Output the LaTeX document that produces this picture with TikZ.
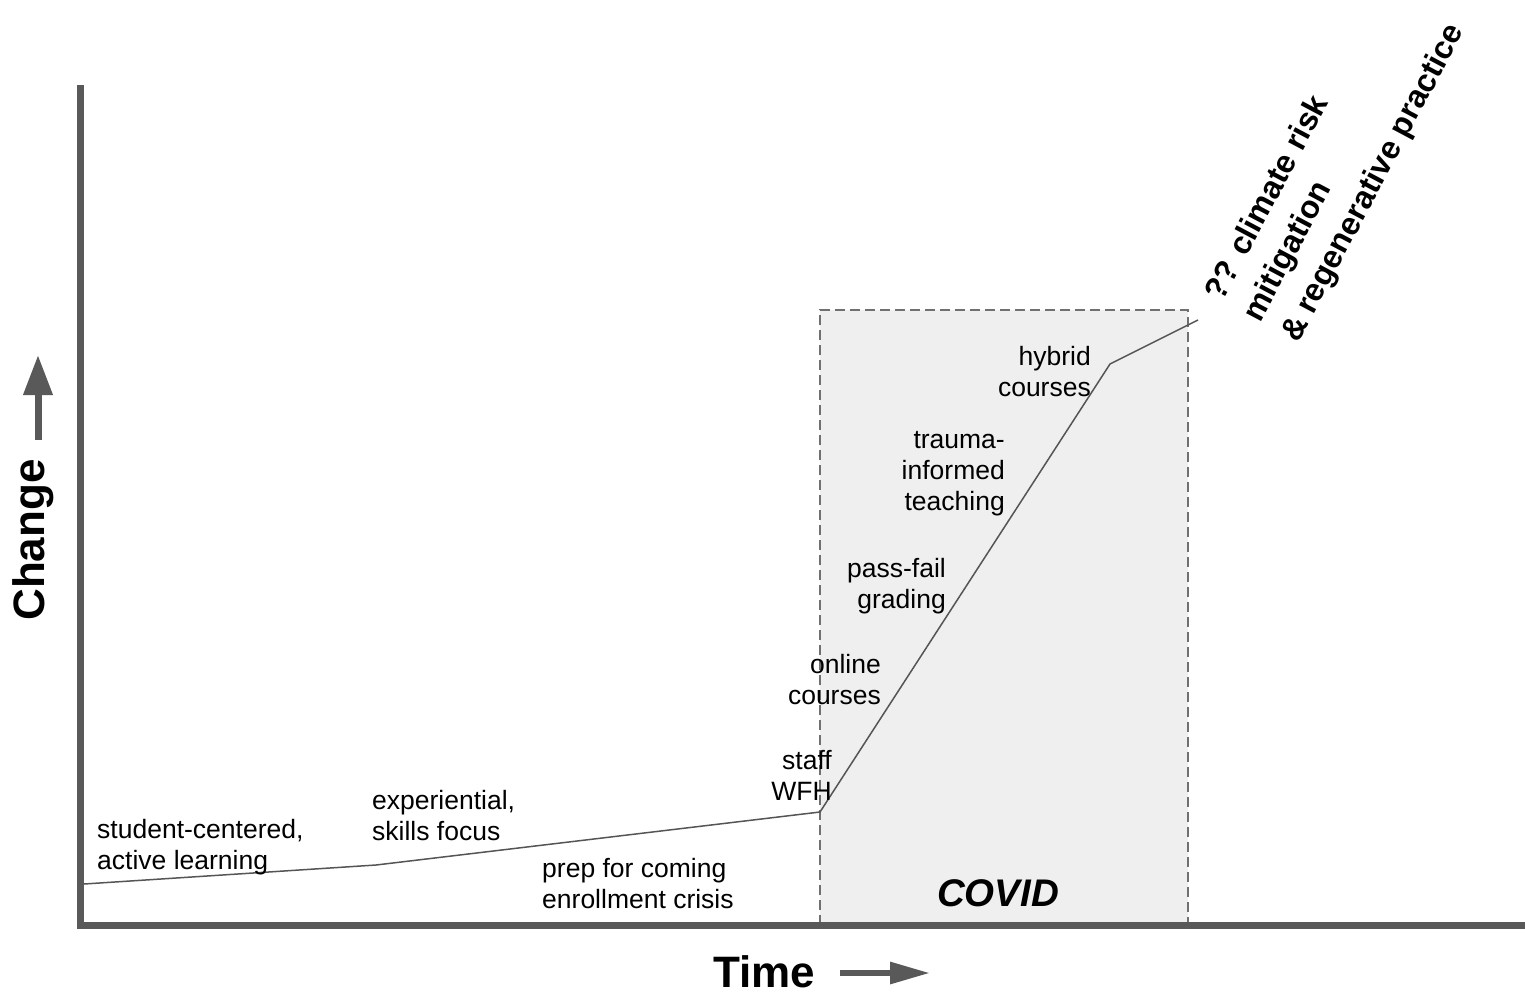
\documentclass[tikz,border=0pt]{standalone}
\usepackage{fontspec}
\setmainfont{Liberation Sans}
\usetikzlibrary{arrows.meta}
\definecolor{axisgray}{HTML}{595959}
\definecolor{linegray}{HTML}{555555}
\definecolor{boxfill}{HTML}{EFEFEF}
\definecolor{boxedge}{HTML}{707070}
\begin{document}
\begin{tikzpicture}[x=1pt,y=-1pt,
  lbl/.style={font=\fontsize{26.5}{31}\selectfont, inner sep=0pt, text=black},
  lblL/.style={lbl, align=left, anchor=west},
  lblR/.style={lbl, align=right, anchor=east},
  axisline/.style={draw=axisgray, line width=7pt},
  trend/.style={draw=linegray, line width=1.5pt, line join=round},
  covidbox/.style={fill=boxfill, draw=boxedge, line width=1.5pt, dash pattern=on 10pt off 5pt}]
\useasboundingbox (0,0) rectangle (1525,996);
% COVID box
\draw[covidbox] (820,925) -- (820,310) -- (1188,310) -- (1188,925);
\node[font=\bfseries\itshape\fontsize{38.5}{44}\selectfont, inner sep=0pt] (covid) at (998,893) {COVID};
% axes
\coordinate (ytop) at (80,85);
\coordinate (origin) at (80,925);
\coordinate (xend) at (1525,925);
\draw[axisline] (ytop) -- (80,928);
\draw[axisline] (77,925) -- (xend);
% trend line
\coordinate (p0) at (84,884);
\coordinate (p1) at (376,865);
\coordinate (p2) at (820,812);
\coordinate (p3) at (1110,364);
\coordinate (p4) at (1198,320);
\draw[trend] (p0) -- (p1) -- (p2) -- (p3) -- (p4);
% labels
\node[lblL] (l1) at (97,847) {student-centered,\\active learning};
\node[lblL] (l2) at (372,816) {experiential,\\skills focus};
\node[lblL] (l3) at (542,884) {prep for coming\\enrollment crisis};
\node[lblR] (l4) at (832,775) {staff\\WFH};
\node[lblR] (l5) at (881,680) {online\\courses};
\node[lblR] (l6) at (946,586) {pass-fail\\grading};
\node[lblR] (l7) at (1005,474) {trauma-\\informed\\teaching};
\node[lblR] (l8) at (1091,372) {hybrid\\courses};
\node[font=\bfseries\fontsize{32}{43}\selectfont, inner sep=0pt, align=left, rotate=62] (climate) at (1336,163) {?? climate risk\\mitigation\\\& regenerative practice};
% axis titles
\node[font=\bfseries\fontsize{44}{50}\selectfont, inner sep=0pt, rotate=90] (change) at (33,540) {Change};
\coordinate (ca0) at (38,440);
\coordinate (ca1) at (38,355);
\draw[draw=axisgray, fill=axisgray, line width=7pt, -{Triangle[length=40pt, width=28pt]}] (ca0) -- (ca1);
\node[font=\bfseries\fontsize{44}{50}\selectfont, inner sep=0pt, anchor=base] (time) at (764,987) {Time};
\coordinate (ta0) at (840,973);
\coordinate (ta1) at (930,973);
\draw[draw=axisgray, fill=axisgray, line width=6pt, -{Triangle[length=40pt, width=21pt]}] (ta0) -- (ta1);
\end{tikzpicture}
\end{document}
